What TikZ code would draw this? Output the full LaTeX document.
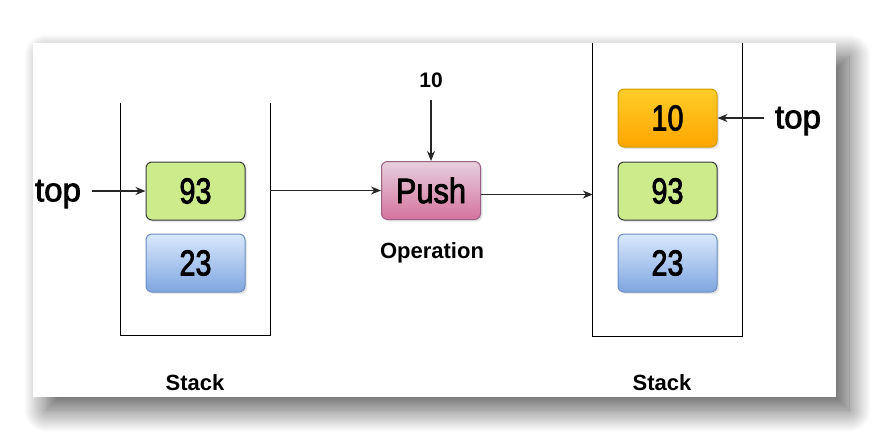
\documentclass[tikz,border=0pt]{standalone}
\usepackage{fontspec}
\setmainfont{Liberation Sans}
\newfontfamily\medfont[FakeBold=2.5]{Liberation Sans}
\usepackage{xcolor}
\usepackage{tikz}
\usetikzlibrary{arrows.meta, positioning, calc, shadows, shadows.blur}

\definecolor{greenfill}{HTML}{CDEB8B}
\definecolor{greenline}{HTML}{36393D}
\definecolor{bluetop}{HTML}{DAE8FC}
\definecolor{bluebot}{HTML}{7EA6E0}
\definecolor{blueline}{HTML}{6C8EBF}
\definecolor{orangetop}{HTML}{FFCD28}
\definecolor{orangebot}{HTML}{FFA500}
\definecolor{orangeline}{HTML}{D79B00}
\definecolor{pinktop}{HTML}{E6D0DE}
\definecolor{pinkbot}{HTML}{D5739D}
\definecolor{pinkline}{HTML}{996185}

\newcommand{\narrow}[1]{\scalebox{0.8}[1]{#1}}

\begin{document}
\begin{tikzpicture}[
    x=1pt, y=-1pt,
    card/.style={rectangle, fill=white, minimum width=803pt, minimum height=354pt,
        blur shadow={shadow xshift=13pt, shadow yshift=-13pt, shadow blur radius=22pt, shadow opacity=65, shadow blur steps=24}},
    stackbox/.style={rectangle, minimum width=149pt, inner sep=0pt},
    cell/.style={rectangle, rounded corners=6pt, minimum width=99pt, minimum height=58pt, inner sep=0pt,
        line width=1pt, font=\medfont\fontsize{36}{40}\selectfont,
        drop shadow={shadow xshift=2pt, shadow yshift=-2pt, opacity=0.2}},
    greencell/.style={cell, draw=greenline, fill=greenfill},
    bluecell/.style={cell, draw=blueline, top color=bluetop, bottom color=bluebot},
    orangecell/.style={cell, draw=orangeline, top color=orangetop, bottom color=orangebot},
    opbox/.style={cell, draw=pinkline, top color=pinktop, bottom color=pinkbot, font=\medfont\fontsize{35}{40}\selectfont},
    caption/.style={font=\bfseries\fontsize{22}{26}\selectfont},
    pointer/.style={font=\medfont\fontsize{33}{38}\selectfont, inner sep=6pt, outer sep=5pt},
    arr/.style={-{Stealth[length=10pt, width=8pt]}, line width=1.4pt, draw=black!85}
]
\useasboundingbox (0,0) rectangle (878,432);

% Card with shadow
\node[card] (card) at (434.5,220) {};

% Stacks
\node[stackbox, minimum height=232pt] (lstack) at (195.5,219) {};
\node[stackbox, minimum height=293pt] (rstack) at (667.5,189.5) {};
\draw[line width=1.3pt] (lstack.north west) |- (lstack.south east) -- (lstack.north east);
\draw[line width=1.3pt] (rstack.north west) |- (rstack.south east) -- (rstack.north east);

% Cells before push
\node[greencell] (l93) at (195.5,191) {\narrow{93}};
\node[bluecell] (l23) at (195.5,263) {\narrow{23}};

% Cells after push
\node[orangecell] (r10) at (667.5,118) {\narrow{10}};
\node[greencell] (r93) at (667.5,191) {\narrow{93}};
\node[bluecell] (r23) at (667.5,263) {\narrow{23}};

% Operation
\node[opbox] (push) at (431,190.5) {\scalebox{0.88}[1]{Push}};
\node[caption] (oplabel) at (432,253) {Operation};
\node[caption, font=\bfseries\fontsize{21}{24}\selectfont, inner sep=12pt] (ten) at (431,80) {10};

% Labels
\node[pointer] (ltop) at (58,194) {top};
\node[pointer] (rtop) at (798,121) {top};
\node[caption] (lcap) at (195,383) {Stack};
\node[caption] (rcap) at (662,383) {Stack};

% Connections
\draw[arr] (ltop.east |- l93.west) -- (l93.west);
\draw[arr] (rtop.west |- r10.east) -- (r10.east);
\draw[arr] (ten.south) -- (push.north);
\draw[arr] (lstack.east |- push.west) -- (push.west);
\draw[arr] ([yshift=-4pt]push.east) -- ([yshift=-4pt]rstack.west |- push.east);

\end{tikzpicture}
\end{document}
